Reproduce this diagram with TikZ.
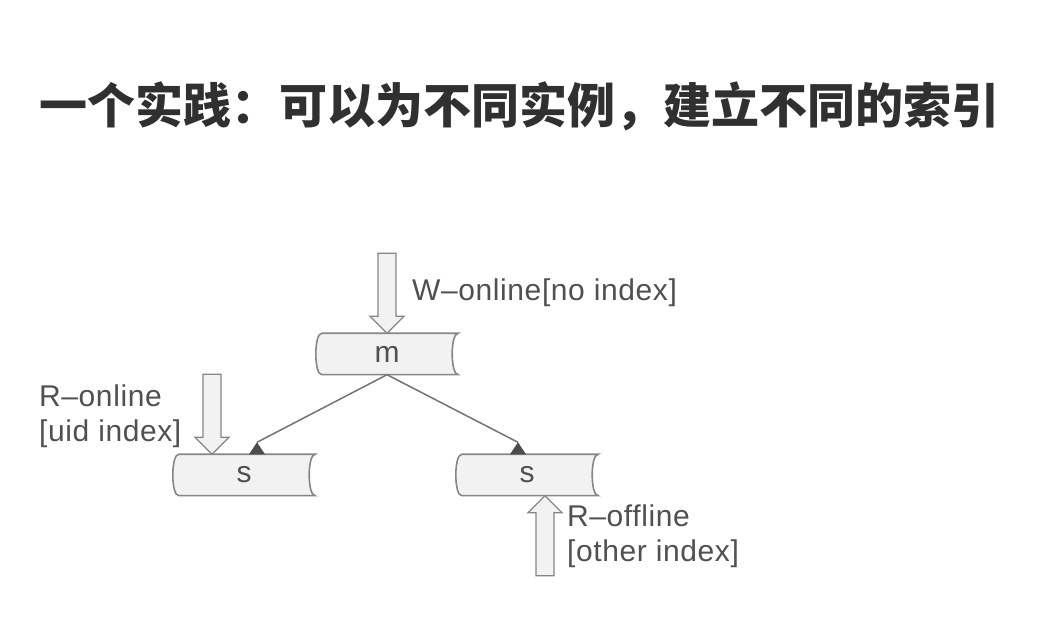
\documentclass[tikz,border=0pt]{standalone}
\usepackage{fontspec}
\setmainfont{Liberation Sans}
\newfontfamily\lblfont{Liberation Sans}[LetterSpace=2]
\newfontfamily\cjk{Noto Sans CJK SC}
\usetikzlibrary{calc}

\definecolor{titlegray}{HTML}{303030}
\definecolor{textgray}{HTML}{505050}
\definecolor{linegray}{HTML}{868686}
\definecolor{fillgray}{HTML}{F2F2F2}

\tikzset{
  drum/.style={minimum width=142pt,minimum height=41pt,inner sep=0pt,
    font=\lblfont\fontsize{30}{34}\selectfont,text=textgray},
  drumline/.style={draw=linegray,fill=fillgray,line width=1.6pt},
  hollow/.style={draw=linegray,fill=fillgray,line width=1.3pt,line join=miter},
  link/.style={draw=gray!90!black,line width=1.5pt},
  tipfill/.style={fill=black!70},
  lbl/.style={font=\lblfont\fontsize{30}{35}\selectfont,text=textgray,align=left,inner sep=0pt}
}

\newcommand\drawdrum[1]{%
  \draw[drumline] ([xshift=6pt]#1.north west)
    .. controls ([xshift=-2pt]#1.north west) and ([xshift=-2pt]#1.south west) .. ([xshift=6pt]#1.south west)
    -- (#1.south east)
    .. controls ([xshift=-8pt]#1.south east) and ([xshift=-8pt]#1.north east) .. (#1.north east)
    -- cycle;}
\newcommand\hollowarrow[2]{%
  \draw[hollow,rotate around={#2:(#1)}] (#1) -- ++(17,17) -- ++(-8,0) -- ++(0,63)
    -- ++(-18,0) -- ++(0,-63) -- ++(-8,0) -- cycle;}

\begin{document}
\begin{tikzpicture}[x=1pt,y=1pt]
  \useasboundingbox (0,0) rectangle (1056,626);
  \node[anchor=west,text=titlegray,inner sep=0pt] (title) at (39,520)
    {\cjk\bfseries\fontsize{48}{50}\selectfont 一个实践：可以为不同实例，建立不同的索引};

  \begin{scope}[every node/.style={drum}]
    \node (m) at (387,272) {};
    \node (sl) at (244,151) {};
    \node (sr) at (527,151) {};
  \end{scope}
  \drawdrum{m}
  \drawdrum{sl}
  \drawdrum{sr}
  \node[drum] at (m) {m};
  \node[drum] at (sl) {s};
  \node[drum] at (sr) {s};

  % links from master to slaves
  \coordinate (tl) at ([xshift=13pt,yshift=12pt]sl.north);
  \coordinate (tr) at ([xshift=-9pt,yshift=12pt]sr.north);
  \path[link] (m.south) -- (tl);
  \path[link] (m.south) -- (tr);
  \fill[tipfill] (tl) -- ++(-8,-12) -- ++(16,0) -- cycle;
  \fill[tipfill] (tr) -- ++(-8,-12) -- ++(16,0) -- cycle;

  % read and write paths
  \coordinate (win) at (m.north);
  \coordinate (rin) at ([xshift=-32pt]sl.north);
  \coordinate (rout) at ([xshift=18pt]sr.south);
  \hollowarrow{win}{0}
  \hollowarrow{rin}{0}
  \hollowarrow{rout}{180}

  \node[lbl,anchor=west] (wlbl) at (412,333) {W–online[no index]};
  \node[lbl,anchor=west] (rlbl) at (39,210) {R–online\\{}[uid index]};
  \node[lbl,anchor=west] (olbl) at (567,90) {R–offline\\{}[other index]};
\end{tikzpicture}
\end{document}
